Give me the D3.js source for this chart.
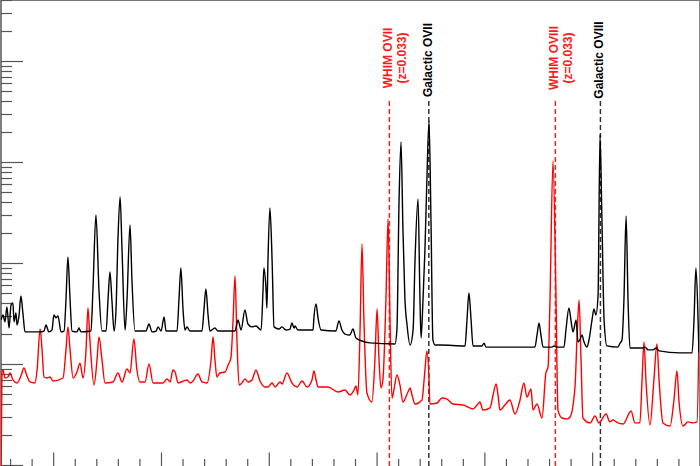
<!DOCTYPE html>
<html><head><meta charset="utf-8">
<script src="https://cdn.jsdelivr.net/npm/d3@7"></script>
<style>body{margin:0;background:#fff}svg{display:block}</style>
</head><body>
<svg id="c" width="700" height="466"></svg>
<script>
// Energy (keV) and flux of the black spectrum
const energyBlack = [
0.3756,0.3765,0.3774,0.3783,0.3793,0.3802,0.3811,0.3816,0.3825,0.3830,
0.3839,0.3848,0.3858,0.3867,0.3937,0.3955,0.3964,0.3978,0.3992,0.4001,
0.4011,0.4020,0.4034,0.4048,0.4057,0.4066,0.4076,0.4085,0.4108,0.4117,
0.4127,0.4173,0.4182,0.4196,0.4210,0.4224,0.4243,0.4252,0.4261,0.4270,
0.4280,0.4289,0.4298,0.4308,0.4317,0.4331,0.4340,0.4354,0.4363,0.4377,
0.4428,0.4442,0.4456,0.4475,0.4484,0.4498,0.4512,0.4521,0.4572,0.4581,
0.4590,0.4600,0.4609,0.4618,0.4632,0.4688,0.4697,0.4706,0.4716,0.4725,
0.4748,0.4762,0.4841,0.4855,0.4869,0.4887,0.4901,0.4920,0.4938,0.4962,
0.4971,0.4975,0.4985,0.4989,0.4994,0.5003,0.5013,0.5022,0.5045,0.5059,
0.5077,0.5096,0.5105,0.5115,0.5119,0.5133,0.5203,0.5207,0.5217,0.5226,
0.5240,0.5309,0.5323,0.5337,0.5351,0.5374,0.5388,0.5402,0.5430,0.5467,
0.5583,0.5592,0.5602,0.5611,0.5620,0.5629,0.5639,0.5653,0.5667,0.5676,
0.5690,0.5699,0.5704,0.5713,0.5722,0.5731,0.5741,0.5750,0.5759,0.5769,
0.5792,0.5908,0.5917,0.5926,0.5936,0.5945,0.5987,0.5996,0.6005,0.6163,
0.6232,0.6242,0.6251,0.6260,0.6270,0.6311,0.6321,0.6330,0.6367,0.6376,
0.6390,0.6399,0.6409,0.6423,0.6432,0.6441,0.6450,0.6460,0.6474,0.6483,
0.6497,0.6506,0.6515,0.6525,0.6534,0.6543,0.6553,0.6566,0.6617,0.6627,
0.6636,0.6645,0.6655,0.6664,0.6673,0.6729,0.6743,0.6757,0.6780,0.6794,
0.6808,0.6905,0.6961,0.6970,0.6979,0.6989,0.6993];
const fluxBlack = [
27.3,30.6,26.1,36.7,22.7,38.4,40.2,26.1,32.0,24.3,
29.9,47.1,30.6,20.8,20.8,21.2,24.3,20.8,21.7,30.6,
28.6,29.9,20.8,21.2,43.0,114.7,43.0,21.2,20.8,22.7,
20.8,21.2,54.1,298.8,54.1,21.2,21.2,43.0,81.5,43.0,
21.2,34.3,169,450,134.5,21.7,43.0,237.9,67.9,21.2,
21.2,24.9,20.8,21.2,23.3,21.2,29.2,21.2,21.2,43.0,
89.2,34.3,21.7,23.3,21.2,21.2,34.3,55.3,30.6,21.2,
22.7,21.2,21.2,27.3,21.7,34.3,24.9,23.3,23.8,21.7,
54.1,89.2,54.1,35.9,107.1,350.4,107.1,23.3,22.2,23.3,
21.7,22.2,25.5,22.7,23.8,21.7,21.7,28.6,39.3,28.6,
21.7,21.2,26.7,21.7,19.8,19.4,22.2,18.1,16.9,16.2,
15.8,21.7,420.6,1578,212.3,45.0,24.3,15.4,21.7,107.1,
430.3,43.0,18.1,43.0,134.5,663.6,2547,266.6,17.3,15.4,
15.4,15.1,27.3,50.5,27.3,15.1,15.1,16.1,14.7,14.7,
14.7,19.4,25.5,19.4,14.7,14.7,15.1,14.7,14.7,21.7,
35.9,27.3,20.8,27.3,16.5,17.3,19.4,16.5,14.7,17.3,
27.3,35.0,30.6,48.2,1851,266.6,27.3,15.1,14.7,16.1,
17.3,43.0,292,43.0,14.4,14.4,14.7,13.8,13.8,14.4,
13.5,12.9,12.9,27.3,89.2,27.3,12.9];

// Energy (keV) and flux of the red spectrum
const energyRed = [
0.3756,0.3760,0.3765,0.3774,0.3788,0.3797,0.3811,0.3830,0.3848,0.3862,
0.3876,0.3890,0.3913,0.3923,0.3937,0.3946,0.3955,0.3969,0.3983,0.3997,
0.4043,0.4057,0.4066,0.4076,0.4090,0.4108,0.4122,0.4136,0.4150,0.4159,
0.4168,0.4187,0.4201,0.4210,0.4224,0.4238,0.4275,0.4298,0.4317,0.4340,
0.4354,0.4372,0.4386,0.4400,0.4424,0.4442,0.4461,0.4507,0.4526,0.4540,
0.4553,0.4563,0.4577,0.4618,0.4632,0.4646,0.4669,0.4688,0.4711,0.4730,
0.4739,0.4748,0.4757,0.4771,0.4795,0.4809,0.4822,0.4832,0.4841,0.4850,
0.4860,0.4873,0.4887,0.4901,0.4920,0.4938,0.4957,0.4980,0.4994,0.5013,
0.5027,0.5050,0.5059,0.5082,0.5105,0.5129,0.5152,0.5175,0.5198,0.5207,
0.5217,0.5226,0.5272,0.5319,0.5351,0.5374,0.5393,0.5402,0.5411,0.5421,
0.5430,0.5439,0.5453,0.5476,0.5490,0.5500,0.5509,0.5518,0.5527,0.5541,
0.5551,0.5560,0.5569,0.5578,0.5592,0.5606,0.5620,0.5643,0.5653,0.5662,
0.5676,0.5708,0.5722,0.5731,0.5741,0.5745,0.5778,0.5801,0.5824,0.5852,
0.5899,0.5945,0.5968,0.5977,0.5991,0.6024,0.6038,0.6052,0.6061,0.6070,
0.6093,0.6116,0.6140,0.6163,0.6181,0.6195,0.6214,0.6223,0.6242,0.6265,
0.6283,0.6293,0.6302,0.6316,0.6330,0.6339,0.6358,0.6381,0.6395,0.6418,
0.6427,0.6437,0.6446,0.6455,0.6488,0.6511,0.6529,0.6562,0.6580,0.6594,
0.6617,0.6641,0.6678,0.6696,0.6719,0.6729,0.6738,0.6747,0.6766,0.6784,
0.6798,0.6808,0.6826,0.6859,0.6877,0.6891,0.6900,0.6919,0.6942,0.6965,
0.6984,0.6993];
const fluxRed = [
0.89,8.33,8.72,7.27,7.44,8.15,6.95,6.49,7.61,9.13,
7.61,6.64,6.49,8.72,22.2,13.8,7.44,7.27,7.44,6.79,
7.27,13.8,23.3,13.8,7.27,8.33,10.2,7.27,13.8,35.9,
17.3,6.20,11.0,18.5,11.0,6.49,6.64,8.15,6.64,8.92,
8.15,17.7,8.72,6.64,6.64,10.0,6.49,6.49,7.11,6.64,
8.72,8.33,6.49,6.95,6.49,6.79,7.96,6.64,6.49,11.0,
18.5,11.0,7.44,8.15,8.33,9.78,11.5,27.3,74.4,17.3,
6.20,6.49,7.11,6.64,6.95,8.72,6.79,5.92,5.92,6.49,
5.92,6.64,6.34,8.15,6.49,5.92,6.79,5.92,6.95,8.53,
6.95,5.92,5.92,5.28,5.53,4.93,5.53,6.06,4.93,21.7,
154.2,27.3,5.16,4.21,11.0,35.0,11.0,5.79,6.95,43.0,
272.7,27.3,4.61,5.53,7.78,6.20,4.21,5.28,5.79,4.93,
4.02,4.40,8.72,13.45,6.95,4.02,4.11,4.61,4.50,4.02,
3.93,3.59,4.02,4.21,3.50,3.67,4.93,6.34,4.93,3.50,
3.93,4.40,3.20,4.40,6.49,4.71,5.66,3.50,4.02,2.92,
8.15,9.34,43.0,1023,43.0,3.50,2.92,2.86,2.99,5.92,
17.3,43.0,11.0,2.92,2.61,3.06,2.61,3.20,2.67,2.79,
2.61,2.55,3.43,2.61,2.61,6.95,16.5,6.95,2.49,6.95,
15.8,6.95,2.61,2.43,4.40,8.53,4.40,2.43,2.67,2.61,
2.67,19.4];

// Line markers
const markerEnergy = [0.5557, 0.5740, 0.6327, 0.6536];
const markerLabel = ["WHIM OVII", "Galactic OVII", "WHIM OVIII", "Galactic OVIII"];
const markerSub = ["(z=0.033)", "", "(z=0.033)", ""];
const markerKind = ["whim", "gal", "whim", "gal"];

const W = 700, H = 466;
const svg = d3.select("#c");
const x = d3.scaleLinear().domain([0.37556, 0.69932]).range([1, 699]);
const y = d3.scaleLog().domain([1, 40180]).range([465, 0]);

svg.append("defs").append("clipPath").attr("id", "clip")
  .append("rect").attr("x", 1).attr("y", 0).attr("width", 698).attr("height", H);

// frame
svg.append("line").attr("x1", 1).attr("x2", 1).attr("y1", 0).attr("y2", H).attr("stroke", "#555").attr("stroke-width", 1.5);
svg.append("line").attr("x1", 0).attr("x2", W).attr("y1", 0.5).attr("y2", 0.5).attr("stroke", "#777").attr("stroke-width", 1);
svg.append("line").attr("x1", 699.5).attr("x2", 699.5).attr("y1", 0).attr("y2", H).attr("stroke", "#888").attr("stroke-width", 1);

// left ticks (log)
const yt = y.ticks().filter(v => y(v) >= 0 && y(v) <= 466);
svg.append("g").selectAll("line").data(yt).join("line")
  .attr("x1", 1).attr("x2", v => Math.abs(Math.log10(v) - Math.round(Math.log10(v))) < 1e-6 ? 23 : 12)
  .attr("y1", v => Math.round(y(v)) + 0.5).attr("y2", v => Math.round(y(v)) + 0.5)
  .attr("stroke", "#555").attr("stroke-width", 1.2);

// bottom ticks
const xt = d3.range(38, 70).map(d => d / 100);
svg.append("g").selectAll("line").data(xt).join("line")
  .attr("x1", v => x(v)).attr("x2", v => x(v))
  .attr("y1", H).attr("y2", v => Math.round(v * 100) % 5 === 0 ? H - 13.5 : H - 7)
  .attr("stroke", "#555").attr("stroke-width", 1.2);

const line = d3.line().curve(d3.curveMonotoneX).x(d => x(d[0])).y(d => y(d[1]));
const plot = svg.append("g").attr("clip-path", "url(#clip)");

// marker lines
const mk = plot.append("g");
markerEnergy.forEach((e, i) => {
  mk.append("line").attr("x1", x(e)).attr("x2", x(e)).attr("y1", 101).attr("y2", H)
    .attr("stroke", markerKind[i] === "whim" ? "#f22" : "#333")
    .attr("stroke-width", 1.5).attr("stroke-dasharray", "5,3");
});

plot.append("path").datum(d3.zip(energyRed, fluxRed)).attr("d", line)
  .attr("fill", "none").attr("stroke", "#ff0000").attr("stroke-width", 1.4).attr("stroke-linejoin", "round");
plot.append("path").datum(d3.zip(energyBlack, fluxBlack)).attr("d", line)
  .attr("fill", "none").attr("stroke", "#000").attr("stroke-width", 1.4).attr("stroke-linejoin", "round");

// labels
const lab = svg.append("g").attr("font-family", "'Liberation Sans', Arial, sans-serif")
  .attr("font-weight", "bold").attr("font-size", 12).attr("text-anchor", "middle");
markerEnergy.forEach((e, i) => {
  const col = markerKind[i] === "whim" ? "#ff1a1a" : "#000";
  const xc = x(e);
  lab.append("text").attr("transform", `translate(${xc + 3},${markerKind[i] === "whim" ? 58 : 60}) rotate(-90)`)
    .attr("fill", col).text(markerLabel[i]);
  if (markerSub[i]) {
    lab.append("text").attr("transform", `translate(${xc + 17},58) rotate(-90)`)
      .attr("fill", col).text(markerSub[i]);
  }
});
</script>
</body></html>
